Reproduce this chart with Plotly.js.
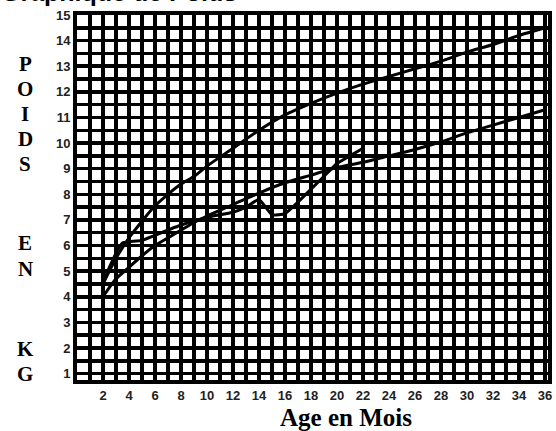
<!DOCTYPE html>
<html>
<head>
<meta charset="utf-8">
<script src="https://cdn.plot.ly/plotly-3.0.1.min.js"></script>
<style>html,body{margin:0;padding:0;background:#fff;}#chart{width:556px;height:431px;}</style>
</head>
<body>
<div id="chart"></div>
<script>
// Reference curves (months, kg)
const refMonths = [2, 3, 4, 5, 6, 7, 8, 9, 10, 12, 14, 16, 18, 20, 22, 24, 26, 28, 30, 32, 34, 36];
const upperCurve = [4.5, 5.5, 6.3, 6.95, 7.55, 8.0, 8.4, 8.7, 9.1, 9.8, 10.5, 11.1, 11.55, 11.95, 12.3, 12.6, 12.9, 13.2, 13.55, 13.85, 14.2, 14.5];
const lowerCurve = [4.0, 4.7, 5.15, 5.6, 6.0, 6.3, 6.6, 6.9, 7.15, 7.6, 8.05, 8.45, 8.75, 9.05, 9.25, 9.5, 9.75, 10.05, 10.4, 10.7, 11.0, 11.3];
// Child's weight
const childMonths = [2, 3, 3.5, 4, 5, 6, 8, 10, 12, 13, 14, 15, 16, 17, 18, 19, 20, 21, 22];
const childWeight = [4.6, 5.7, 6.1, 6.15, 6.2, 6.4, 6.8, 7.1, 7.3, 7.5, 7.8, 7.2, 7.25, 7.7, 8.2, 8.7, 9.2, 9.5, 9.8];
// Tick labels
const xTicks = [2, 4, 6, 8, 10, 12, 14, 16, 18, 20, 22, 24, 26, 28, 30, 32, 34, 36];
const yTicks = [1, 2, 3, 4, 5, 6, 7, 8, 9, 10, 11, 12, 13, 14, 15];
const yLetters = ['P', 'O', 'I', 'D', 'S', 'E', 'N', 'K', 'G'];
const yLetterPos = [13.1, 12.12, 11.14, 10.16, 9.18, 6.08, 5.1, 1.95, 1.0];

const lineStyle = {color: '#000', width: 3, shape: 'spline', smoothing: 0.6};
const traces = [
  {x: refMonths, y: upperCurve, mode: 'lines', line: lineStyle, hoverinfo: 'skip'},
  {x: refMonths, y: lowerCurve, mode: 'lines', line: lineStyle, hoverinfo: 'skip'},
  {x: childMonths, y: childWeight, mode: 'lines', line: {color: '#000', width: 3, shape: 'spline', smoothing: 0.4}, hoverinfo: 'skip'}
];

const annotations = yLetters.map((t, i) => ({
  text: t, xref: 'paper', x: -0.11, xanchor: 'center', yref: 'y', y: yLetterPos[i], yanchor: 'middle',
  showarrow: false, borderpad: 0, font: {family: 'Liberation Serif', size: 21, color: '#000', weight: 'bold'}
}));
annotations.push({
  text: 'Age en Mois', xref: 'paper', x: 0.571, xanchor: 'center', yref: 'paper', y: -0.102, yanchor: 'middle',
  showarrow: false, borderpad: 0, font: {family: 'Liberation Serif', size: 25, color: '#000', weight: 'bold'}
});
annotations.push({
  text: 'Graphique de Poids', xref: 'paper', x: -0.163, xanchor: 'left', yref: 'paper', y: 1.021, yanchor: 'bottom',
  showarrow: false, borderpad: 0, font: {family: 'Liberation Sans', size: 25, color: '#000', weight: 'bold'}
});

const layout = {
  width: 556, height: 431,
  margin: {l: 77, r: 8, t: 15, b: 51},
  paper_bgcolor: '#fff', plot_bgcolor: '#fff',
  showlegend: false,
  xaxis: {
    range: [0, 36.23], tickvals: xTicks, ticktext: xTicks.map(String),
    showgrid: false, zeroline: false, showline: true, linecolor: '#000', linewidth: 4, mirror: true,
    ticks: '', tickfont: {family: 'Liberation Sans', size: 13, color: '#222', weight: 'bold'},
    minor: {tick0: 0, dtick: 1, showgrid: true, gridcolor: '#000', gridwidth: 3.5}
  },
  yaxis: {
    range: [0.75, 15], tickvals: yTicks, ticktext: yTicks.map(String),
    showgrid: true, gridcolor: '#000', gridwidth: 3.5, zeroline: false,
    showline: true, linecolor: '#000', linewidth: 4, mirror: true,
    ticks: '', tickfont: {family: 'Liberation Sans', size: 13, color: '#222', weight: 'bold'},
    minor: {tick0: 0, dtick: 0.5, showgrid: true, gridcolor: '#000', gridwidth: 3.5}
  },
  annotations: annotations
};

Plotly.newPlot('chart', traces, layout, {staticPlot: true, displayModeBar: false});
</script>
</body>
</html>
